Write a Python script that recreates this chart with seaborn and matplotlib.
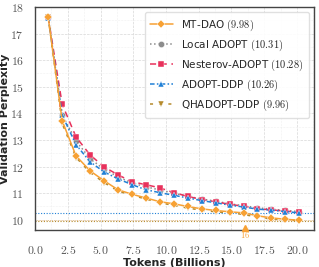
import matplotlib
matplotlib.use("Agg")
import matplotlib.pyplot as plt
import numpy as np
import pandas as pd
import seaborn as sns
from matplotlib.ticker import FuncFormatter, MultipleLocator, AutoMinorLocator

# datos
tokens = [1.0, 2.07, 3.13, 4.2, 5.26, 6.33, 7.4, 8.46, 9.53, 10.6,
          11.66, 12.73, 13.79, 14.86, 15.93, 16.99, 18.06, 19.12, 20.19]

mt_dao = [17.62, 13.72, 12.40, 11.84, 11.47, 11.13, 10.96, 10.82, 10.68, 10.60,
          10.50, 10.41, 10.35, 10.30, 10.26, 10.15, 10.07, 10.02, 9.98]
local_adopt = [17.62, 13.95, 12.96, 12.30, 11.90, 11.62, 11.38, 11.24, 11.12, 11.00,
               10.88, 10.78, 10.70, 10.60, 10.53, 10.45, 10.40, 10.35, 10.31]
nesterov = [17.62, 14.34, 13.11, 12.44, 11.99, 11.69, 11.43, 11.32, 11.20, 11.02,
            10.88, 10.76, 10.68, 10.58, 10.51, 10.42, 10.37, 10.33, 10.28]
adopt_ddp = [17.60, 13.93, 12.82, 12.18, 11.80, 11.54, 11.32, 11.13, 11.02, 10.92,
             10.82, 10.72, 10.64, 10.55, 10.48, 10.40, 10.36, 10.31, 10.26]
qhadopt = [17.62, 13.62, 12.34, 11.78, 11.40, 11.08, 10.92, 10.78, 10.64, 10.54,
           10.44, 10.36, 10.30, 10.26, 10.20, 10.10, 10.03, 10.01, 9.96]

nombres = ["MT-DAO", "Local ADOPT", "Nesterov-ADOPT", "ADOPT-DDP", "QHADOPT-DDP"]
finales = [9.98, 10.31, 10.28, 10.26, 9.96]
cruce_tokens = 16

colores = ["#F7A134", "#8C8C8C", "#E8315B", "#2080D6", "#B58A2C"]
marcadores = ["D", "o", "s", "^", "v"]
estilos = ["-", ":", (0, (4, 3)), (0, (3, 1.5, 1, 1.5)), (0, (2, 4))]

sns.set_theme(style="whitegrid")
plt.rcParams["mathtext.fontset"] = "cm"
plt.rcParams["font.family"] = ["DejaVu Sans"]

df = pd.DataFrame({"tokens": tokens * 5,
                   "ppl": mt_dao + local_adopt + nesterov + adopt_ddp + qhadopt,
                   "metodo": sum([[n] * len(tokens) for n in nombres], [])})

fig, ax = plt.subplots(figsize=(3.19, 2.67), dpi=100)
fig.subplots_adjust(left=0.11, right=0.984, top=0.974, bottom=0.139)

orden_dibujo = [1, 2, 3, 4, 0]
for i in orden_dibujo:
    sub = df[df["metodo"] == nombres[i]]
    sns.lineplot(data=sub, x="tokens", y="ppl", ax=ax,
                 color=colores[i], marker=marcadores[i], linestyle=estilos[i],
                 markersize=4.5, linewidth=1.1, markeredgewidth=0.3,
                 label=f"{nombres[i]} $({finales[i]:.2f})$", zorder=3 + (i == 0))

# lineas horizontales de referencia
ax.axhline(finales[3], color=colores[3], linestyle=(0, (1, 1.5)), linewidth=0.8, zorder=2)
ax.axhline(finales[4], color=colores[4], linestyle=(0, (1, 1.5)), linewidth=0.8, zorder=2)
ax.axhline(finales[0], color=colores[0], linestyle=(0, (1, 1.5)), linewidth=0.6, alpha=0.6, zorder=2)

# marca del cruce
ax.plot([cruce_tokens], [9.70], marker="^", color=colores[0], markersize=5,
        clip_on=False, zorder=6)
ax.text(cruce_tokens, 9.60, f"${cruce_tokens}$", color=colores[0], fontsize=6,
        ha="center", va="top")

ax.set_xlim(0, 21.3)
ax.set_ylim(9.62, 18.0)
ax.xaxis.set_major_locator(MultipleLocator(2.5))
ax.yaxis.set_major_locator(MultipleLocator(1))
ax.xaxis.set_minor_locator(AutoMinorLocator(2))
ax.yaxis.set_minor_locator(AutoMinorLocator(2))
ax.xaxis.set_major_formatter(FuncFormatter(lambda v, p: f"${v:.1f}$"))
ax.yaxis.set_major_formatter(FuncFormatter(lambda v, p: f"${v:.0f}$"))
ax.tick_params(axis="both", labelsize=8.5, pad=2, colors="#555555")
ax.tick_params(axis="x", pad=4)
ax.grid(True, which="major", linestyle="--", linewidth=0.5, color="#D8D8D8")
ax.grid(True, which="minor", linestyle=":", linewidth=0.4, color="#E4E4E4")

for s in ax.spines.values():
    s.set_color("#444444")
    s.set_linewidth(1.0)

ax.set_xlabel("Tokens (Billions)", fontsize=8, fontweight="bold", labelpad=1)
ax.set_ylabel("Validation Perplexity", fontsize=8, fontweight="bold")
ax.yaxis.set_label_coords(-0.09, 0.5)

handles, labels = ax.get_legend_handles_labels()
orden = [labels.index(f"{n} $({f:.2f})$") for n, f in zip(nombres, finales)]
ax.legend([handles[k] for k in orden], [labels[k] for k in orden],
          loc="upper right", fontsize=7.5, frameon=True, handlelength=2.2,
          borderpad=0.5, labelspacing=0.45, framealpha=0.9, edgecolor="#DDDDDD")

plt.savefig("out.png", dpi=100)
plt.close(fig)
